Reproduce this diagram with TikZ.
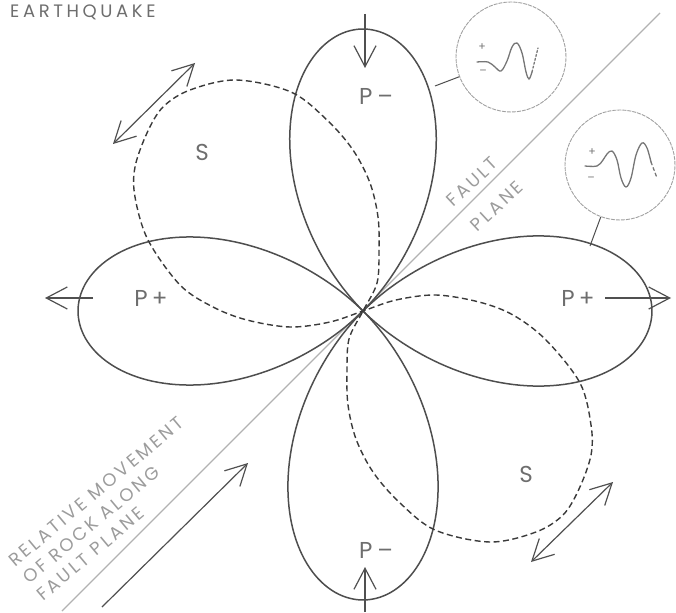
\documentclass[tikz,border=0pt]{standalone}
\usepackage{fontspec}
\setmainfont{Poppins}
\usetikzlibrary{arrows.meta}
\definecolor{lobec}{HTML}{4E4E4E}
\definecolor{sc}{HTML}{3A3A3A}
\definecolor{arrc}{HTML}{505050}
\definecolor{txtc}{HTML}{6E6E6E}
\definecolor{lightc}{HTML}{9C9C9C}
\definecolor{faultc}{HTML}{B2B2B2}
\definecolor{wavec}{HTML}{767676}
\definecolor{ringc}{HTML}{A0A0A0}
\tikzset{
  lobe/.style={draw=lobec, line width=1.5pt},
  sdash/.style={draw=sc, line width=1.4pt, dash pattern=on 6pt off 3.5pt},
  arr/.style={draw=arrc, line width=1.2pt, -{Straight Barb[length=21pt,width=22pt]}},
  darr/.style={draw=arrc, line width=1.2pt, {Straight Barb[length=21pt,width=22pt]}-{Straight Barb[length=21pt,width=22pt]}},
  lbl/.style={font=\fontsize{23}{23}\selectfont, text=txtc, inner sep=0pt},
  rot/.style={font=\fontsize{18}{18}\selectfont\addfontfeature{LetterSpace=16}, text=lightc, inner sep=0pt},
  ring/.style={circle, draw=ringc, line width=0.9pt, dash pattern=on 4pt off 1pt, minimum size=110pt, inner sep=0pt},
  wave/.style={draw=wavec, line width=1.3pt, line cap=round},
  sign/.style={font=\fontsize{11}{11}\selectfont, text=wavec, inner sep=0pt},
  conn/.style={draw=lobec, line width=1pt},
}
\begin{document}
\begin{tikzpicture}[x=1pt,y=-1pt]
\useasboundingbox (0,0) rectangle (676,612);
\coordinate (O) at (363,311);
% fault plane
\coordinate (fl1) at (62,611);
\coordinate (fl2) at (660,13);
\draw[draw=faultc, line width=1.1pt] (fl1) -- (fl2);
% P lobes
\foreach \a/\R in {0/289,90/282,180/285,270/289}{
  \draw[lobe] (O) -- plot[domain=-44.9:44.9, samples=120]
    ({363+\R*(abs(cos(2*\x)))^1.12*cos(\a+\x)},{311-\R*(abs(cos(2*\x)))^1.12*sin(\a+\x)}) -- cycle;
}
% S lobes (figure eight through the focus)
\draw[sdash] plot[smooth cycle, tension=0.55] coordinates {
  (363,311) (396,300) (436,295) (479,302) (513,315) (546,340) (580,383) (591,425)
  (591,455) (579,489) (563,515) (536,532) (490,542) (435,530) (399,502) (373,472)
  (356,439) (348,405) (347,372) (349,339)
  (363,311) (377,283) (379,250) (378,217) (370,183) (353,150) (327,120) (291,92)
  (236,80) (190,90) (163,107) (147,133) (135,167) (135,197) (148,240) (180,285)
  (213,307) (247,320) (290,327) (330,322)};
% P arrows
\coordinate (ta1) at (365,14);  \coordinate (ta2) at (365,68);
\coordinate (ba1) at (365,612); \coordinate (ba2) at (365,567);
\coordinate (la1) at (93,298);  \coordinate (la2) at (45,298);
\coordinate (ra1) at (605,298); \coordinate (ra2) at (671,298);
\draw[arr] (ta1) -- (ta2);
\draw[arr] (ba1) -- (ba2);
\draw[arr] (la1) -- (la2);
\draw[arr] (ra1) -- (ra2);
% S double arrows
\coordinate (sa1) at (113,144); \coordinate (sa2) at (195,63);
\coordinate (sb1) at (531,562); \coordinate (sb2) at (613,482);
\draw[darr] (sa1) -- (sa2);
\draw[darr] (sb1) -- (sb2);
% relative movement arrow
\coordinate (rm1) at (102,607); \coordinate (rm2) at (248,463);
\draw[arr] (rm1) -- (rm2);
% labels
\node[lbl] (pt) at (376,96) {P\hspace{5pt}–};
\node[lbl] (pb) at (376,550) {P\hspace{5pt}–};
\node[lbl] (pl) at (151,298) {P\hspace{4pt}+};
\node[lbl] (pr) at (578,298) {P\hspace{4pt}+};
\node[lbl] (s1) at (202,152) {S};
\node[lbl] (s2) at (526,474) {S};
\node[anchor=base west, inner sep=0pt, text=txtc, font=\fontsize{18}{18}\selectfont\addfontfeature{LetterSpace=20}] (eq) at (10,18) {EARTHQUAKE};
% fault plane texts
\node[rot, rotate=43] (fault) at (472,182) {FAULT};
\node[rot, rotate=43] (plane) at (497,206) {PLANE};
\node[rot, rotate=40, anchor=base west] (rl1) at (15,568) {RELATIVE MOVEMENT};
\node[rot, rotate=40, anchor=base west] (rl2) at (29,585) {OF ROCK ALONG};
\node[rot, rotate=40, anchor=base west] (rl3) at (43,602) {FAULT PLANE};
% seismogram circles
\node[ring] (c1) at (511,57) {};
\node[ring] (c2) at (620,165) {};
\coordinate (l1) at (435,86);
\coordinate (l2) at (590,246);
\draw[conn] (l1) -- (c1);
\draw[conn] (l2) -- (c2);
% waveform 1
\draw[wave] plot[smooth, tension=0.6] coordinates {(477,62) (488,62) (495,67) (501,71) (507,61) (512,47) (517,43) (522,53) (526,72) (529,79) (532,72)};
\draw[wave, dash pattern=on 2pt off 2pt] plot[smooth, tension=0.6] coordinates {(532,72) (535,60) (538,48)};
\node[sign] (p1) at (482,47) {+};
\node[sign] (m1) at (483,72) {–};
% waveform 2
\draw[wave] plot[smooth, tension=0.6] coordinates {(585,166) (597,166) (603,160) (607,154) (612,151) (617,160) (621,178) (626,187) (631,178) (636,155) (642,143) (647,148) (651,162)};
\draw[wave, dash pattern=on 3pt off 3pt] (651,162) -- (657,178);
\node[sign] (p2) at (592,152) {+};
\node[sign] (m2) at (591,179) {–};
\end{tikzpicture}
\end{document}
